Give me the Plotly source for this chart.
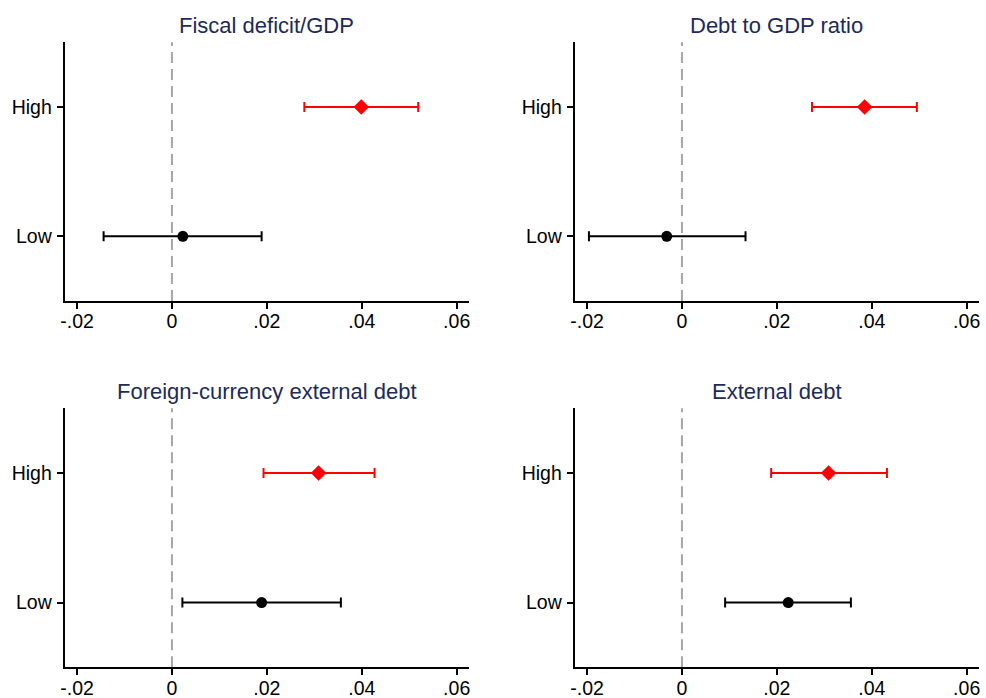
import plotly.graph_objects as go

# ---- data ----
panel_titles = ["Fiscal deficit/GDP", "Debt to GDP ratio",
                "Foreign-currency external debt", "External debt"]
group_labels = ["Low", "High"]
group_positions = [0, 1]

high_est = [0.0399, 0.0385, 0.0309, 0.0309]
high_lo = [0.0279, 0.0274, 0.0193, 0.0188]
high_hi = [0.0519, 0.0495, 0.0427, 0.0432]

low_est = [0.0023, -0.0032, 0.0189, 0.0224]
low_lo = [-0.0144, -0.0196, 0.0022, 0.0091]
low_hi = [0.0189, 0.0134, 0.0356, 0.0356]

x_tickvals = [-0.02, 0, 0.02, 0.04, 0.06]
x_ticktext = ["-.02", "0", ".02", ".04", ".06"]

# ---- layout geometry (pixels) ----
W, H = 986, 698
x_domains_px = [(64.7, 469.0), (574.7, 979.0)]
y_domains_px = [(42.3, 301.0), (408.3, 667.3)]
title_y_px = [25, 391]

FONT = "Liberation Sans, Arial, Helvetica, sans-serif"
TITLE_COLOR = "#1c2b59"

fig = go.Figure()
annotations = []
shapes = []

for i, title in enumerate(panel_titles):
    row, col = divmod(i, 2)
    ax_id = "" if i == 0 else str(i + 1)
    xref, yref = "x" + ax_id, "y" + ax_id
    xd = [x_domains_px[col][0] / W, x_domains_px[col][1] / W]
    yd = [1 - y_domains_px[row][1] / H, 1 - y_domains_px[row][0] / H]

    # Low group (black circle)
    fig.add_trace(go.Scatter(
        x=[low_est[i]], y=[group_positions[0]], mode="markers",
        marker=dict(symbol="circle", size=11, color="black"),
        error_x=dict(type="data", symmetric=False,
                     array=[low_hi[i] - low_est[i]],
                     arrayminus=[low_est[i] - low_lo[i]],
                     color="black", thickness=2, width=5),
        xaxis=xref, yaxis=yref, showlegend=False))
    # High group (red diamond)
    fig.add_trace(go.Scatter(
        x=[high_est[i]], y=[group_positions[1]], mode="markers",
        marker=dict(symbol="diamond", size=12, color="#ff0000"),
        error_x=dict(type="data", symmetric=False,
                     array=[high_hi[i] - high_est[i]],
                     arrayminus=[high_est[i] - high_lo[i]],
                     color="#ff0000", thickness=2, width=5),
        xaxis=xref, yaxis=yref, showlegend=False))

    axis_common = dict(showgrid=False, zeroline=False, showline=True,
                       linecolor="black", linewidth=2, ticks="outside",
                       ticklen=6, tickwidth=2, tickcolor="black",
                       tickfont=dict(family=FONT, size=19.5, color="black"),
                       mirror=False, fixedrange=True, automargin=False)
    fig.layout["xaxis" + ax_id] = dict(
        axis_common, domain=xd, range=[-0.0226, 0.0626],
        tickvals=x_tickvals, ticktext=x_ticktext, anchor=yref,
        ticklabelstandoff=-4)
    fig.layout["yaxis" + ax_id] = dict(
        axis_common, domain=yd, range=[-0.5, 1.5],
        tickvals=group_positions, ticktext=group_labels, anchor=xref,
        ticklabelstandoff=1)

    shapes.append(dict(type="line", xref=xref, yref=yref + " domain",
                       x0=0, x1=0, y0=0, y1=1, layer="below",
                       line=dict(color="#a6a6a6", width=2, dash="11px,6px")))

    annotations.append(dict(
        text=title, xref="paper", yref="paper",
        x=(xd[0] + xd[1]) / 2, y=1 - title_y_px[row] / H,
        xanchor="center", yanchor="middle", showarrow=False,
        font=dict(family=FONT, size=22, color=TITLE_COLOR)))

fig.update_layout(
    width=W, height=H,
    margin=dict(l=0, r=0, t=0, b=0, autoexpand=False),
    paper_bgcolor="white", plot_bgcolor="white",
    annotations=annotations, shapes=shapes,
)

fig.write_html("out.html",
               config={"displayModeBar": False},
               post_script="document.body.style.margin='0px';"
                           "document.body.style.overflow='hidden';")
